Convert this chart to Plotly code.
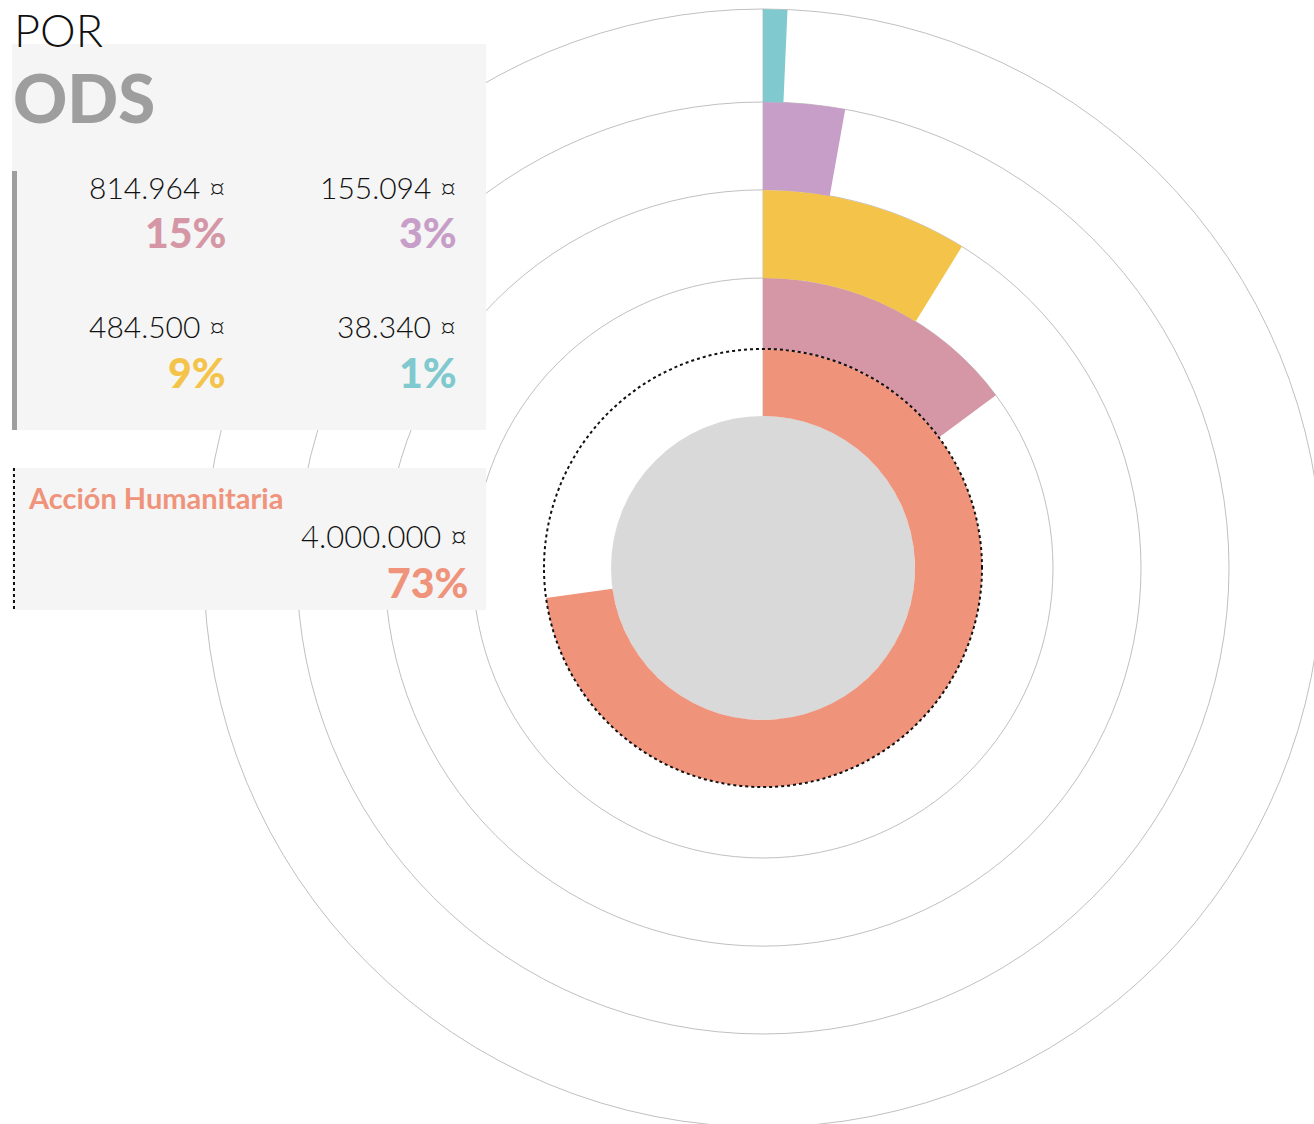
import plotly.graph_objects as go

# data
highlight_name = "Acción Humanitaria"
amounts = [4000000, 814964, 484500, 155094, 38340]
colors = ["#ef937b", "#d596a6", "#f4c44a", "#c79ec8", "#80c9cf"]

total = sum(amounts)
angles = [a / total * 360 for a in amounts]
amount_labels = [f"{a:,}".replace(",", ".") + " ¤" for a in amounts]
pct_labels = [f"{round(a / total * 100)}%" for a in amounts]

# layout constants, in screen pixels
# the chart runs a little past the right/bottom edge of the window, like the original
CX, CY = 763, 568
R_MAX = 559
W, H = CX + R_MAX, CY + R_MAX + 1
ring_edges = [152, 219, 290, 378, 466, R_MAX]
GRID = "#c0c0c0"

fig = go.Figure()

# grey core disc
fig.add_trace(go.Barpolar(
    r=[ring_edges[0]], theta=[0], width=[360], base=0,
    marker=dict(color="#d9d9d9", line_width=0),
    hoverinfo="skip", showlegend=False,
))

# one ring per category, all starting at 12 o'clock
fig.add_trace(go.Barpolar(
    r=[ring_edges[i + 1] - ring_edges[i] for i in range(len(amounts))],
    base=ring_edges[:len(amounts)],
    theta=[a / 2 for a in angles],
    width=angles,
    marker=dict(color=colors, line_width=0),
    customdata=amount_labels,
    hovertemplate="%{customdata}<extra></extra>",
    showlegend=False,
))

# second polar only for the dotted circle around the main ring
fig.add_trace(go.Scatterpolar(r=[], theta=[], subplot="polar2", showlegend=False))

dom = dict(x=[(CX - R_MAX) / W, (CX + R_MAX) / W],
           y=[(H - CY - R_MAX) / H, (H - CY + R_MAX) / H])

fig.update_layout(
    width=W, height=H,
    margin=dict(l=0, r=0, t=0, b=0),
    paper_bgcolor="white",
    font=dict(family="Lato", color="#111111"),
    polar=dict(
        domain=dom, bgcolor="rgba(0,0,0,0)",
        radialaxis=dict(range=[0, R_MAX], tickvals=ring_edges[2:5], showticklabels=False,
                        ticks="", gridcolor=GRID, gridwidth=1, showline=True,
                        linecolor=GRID, linewidth=1, angle=90, layer="below traces"),
        angularaxis=dict(rotation=90, direction="clockwise", showgrid=False,
                         showticklabels=False, ticks="", showline=True,
                         linecolor=GRID, linewidth=1, layer="below traces"),
    ),
    polar2=dict(
        domain=dom, bgcolor="rgba(0,0,0,0)",
        radialaxis=dict(range=[0, R_MAX], tickvals=[ring_edges[1]], showticklabels=False,
                        ticks="", gridcolor="#111111", gridwidth=2, griddash="dot",
                        showline=False),
        angularaxis=dict(visible=False),
    ),
)


def px(x):
    return x / W


def py(y):
    return 1 - y / H


# legend panels
fig.add_shape(type="rect", xref="paper", yref="paper", layer="above",
              x0=px(12), x1=px(486), y0=py(44), y1=py(430),
              fillcolor="#f5f5f5", line_width=0)
fig.add_shape(type="rect", xref="paper", yref="paper", layer="above",
              x0=px(12), x1=px(17), y0=py(171), y1=py(430),
              fillcolor="#9e9e9e", line_width=0)
fig.add_shape(type="rect", xref="paper", yref="paper", layer="above",
              x0=px(12), x1=px(486), y0=py(468), y1=py(610),
              fillcolor="#f5f5f5", line_width=0)
fig.add_shape(type="line", xref="paper", yref="paper", layer="above",
              x0=px(14), x1=px(14), y0=py(468), y1=py(612),
              line=dict(color="#111111", width=2, dash="dot"))

# title
fig.add_annotation(x=px(12), y=py(1), xref="paper", yref="paper", text="POR",
                   showarrow=False, xanchor="left", yanchor="top",
                   font=dict(size=45, weight=300, color="#111111"))
fig.add_annotation(x=px(11), y=py(97), xref="paper", yref="paper", text="ODS",
                   showarrow=False, xanchor="left", yanchor="middle",
                   font=dict(size=67, weight=900, color="#9e9e9e"))

# small entries: right edge x, amount y, pct y
slots = [(226, 187, 233), (457, 187, 233), (226, 326, 373), (457, 326, 373)]
order = [1, 3, 2, 4]
for (xr, ya, yp), i in zip(slots, order):
    fig.add_annotation(x=px(xr + 2), y=py(ya), xref="paper", yref="paper",
                       text=amount_labels[i], showarrow=False, xanchor="right",
                       yanchor="middle", font=dict(size=30, weight=300, color="#111111"))
    fig.add_annotation(x=px(xr + 2), y=py(yp), xref="paper", yref="paper",
                       text=pct_labels[i], showarrow=False, xanchor="right",
                       yanchor="middle", font=dict(size=41, weight=900, color=colors[i]))

# highlighted entry
fig.add_annotation(x=px(26), y=py(498), xref="paper", yref="paper", text=highlight_name,
                   showarrow=False, xanchor="left", yanchor="middle",
                   font=dict(size=29, weight=700, color=colors[0]))
fig.add_annotation(x=px(470), y=py(536), xref="paper", yref="paper", text=amount_labels[0],
                   showarrow=False, xanchor="right", yanchor="middle",
                   font=dict(size=31, weight=300, color="#111111"))
fig.add_annotation(x=px(470), y=py(582), xref="paper", yref="paper", text=pct_labels[0],
                   showarrow=False, xanchor="right", yanchor="middle",
                   font=dict(size=41, weight=900, color=colors[0]))

# drop the default page margin so the figure starts in the window corner
fig.write_html("out.html", config={"displayModeBar": False},
               post_script="document.body.style.margin='0';document.body.style.overflow='hidden';")
